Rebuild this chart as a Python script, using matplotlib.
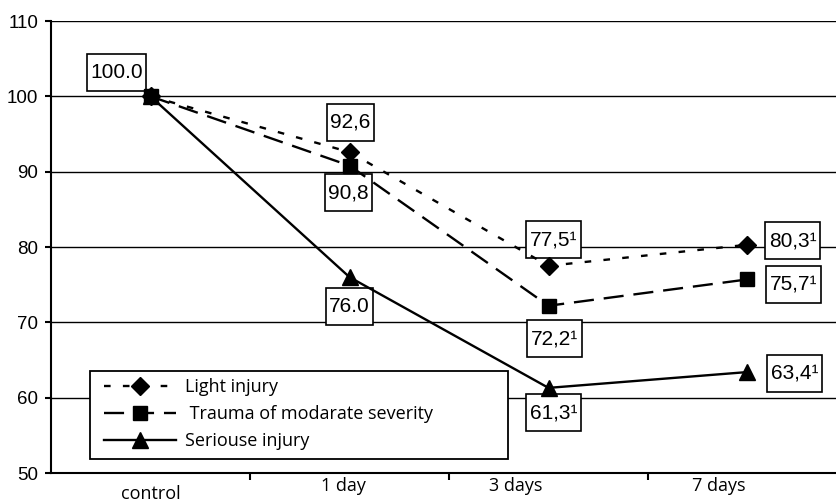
import matplotlib
matplotlib.use("Agg")
import matplotlib.pyplot as plt
import matplotlib.transforms as mtransforms
from matplotlib.patches import Rectangle

# data
categories = ["control", "1 day", "3 days", "7 days"]
light = [100.0, 92.6, 77.5, 80.3]
moderate = [100.0, 90.8, 72.2, 75.7]
serious = [100.0, 76.0, 61.3, 63.4]
series_names = ["Light injury", " Trauma of modarate severity", "Seriouse injury"]

# value labels: (x index, y value, text, dx px, dy px)
labels = [
    (0, 100.0, "100.0", -34, 24),
    (1, 92.6, "92,6", 1, 30),
    (1, 90.8, "90,8", -1, -27),
    (1, 76.0, "76.0", 0, -29),
    (2, 77.5, "77,5\u00b9", 5, 26),
    (2, 72.2, "72,2\u00b9", 6, -33),
    (2, 61.3, "61,3\u00b9", 5, -25),
    (3, 80.3, "80,3\u00b9", 45, 4),
    (3, 75.7, "75,7\u00b9", 46, -5),
    (3, 63.4, "63,4\u00b9", 47, -1),
]

W, H = 836, 504
fig = plt.figure(figsize=(W / 100, H / 100), dpi=100)
ax = fig.add_axes([51 / W, 31 / H, 796 / W, 452 / H])

x = list(range(len(categories)))
lw = 1.7
ax.plot(x, light, color="black", lw=lw, ls=(0, (2.8, 5.2)), marker="D", ms=9, zorder=3)
ax.plot(x, moderate, color="black", lw=lw, ls=(0, (8.5, 4.2)), marker="s", ms=10.5, zorder=4)
ax.plot(x, serious, color="black", lw=lw, ls="-", marker="^", ms=11, zorder=5)

ax.set_xlim(-0.5, 3.5)
ax.set_ylim(50, 110)
ax.set_yticks(range(50, 111, 10))
ax.grid(axis="y", color="black", lw=1)
ax.set_axisbelow(True)
for s in ["top", "right"]:
    ax.spines[s].set_visible(False)
ax.spines["left"].set_linewidth(1.5)
ax.spines["bottom"].set_linewidth(1.5)

ax.tick_params(axis="y", direction="out", length=4, width=1.5, pad=5, labelsize=13.5)
for t in ax.get_yticklabels():
    t.set_fontfamily("Liberation Sans")

ax.set_xticks(x)
ax.set_xticklabels(categories, fontfamily="Open Sans", fontsize=13)
ax.tick_params(axis="x", length=0, pad=3)
ax.set_xticks([0.5, 1.5, 2.5], minor=True)
ax.tick_params(axis="x", which="minor", length=5, width=1.5, direction="out")
# category labels are not centred under the points in the original
shifts = [(0, -8), (-6, 0), (-33, 0), (-29, 0)]
for t, (sx, sy) in zip(ax.get_xticklabels(), shifts):
    t.set_transform(t.get_transform() + mtransforms.ScaledTranslation(sx / 100, sy / 100, fig.dpi_scale_trans))

# boxed value labels: box is taller than the text, so draw it separately
renderer = fig.canvas.get_renderer()
for xi, yv, txt, dx, dy in labels:
    t = ax.annotate(txt, (xi, yv), xytext=(dx, dy), textcoords="offset pixels",
                    ha="center", va="center", fontsize=15, fontfamily="Liberation Sans",
                    zorder=2.6)
    ext = t.get_window_extent(renderer)
    cx, cy = ax.transData.transform((xi, yv))
    cx, cy = cx + dx, cy + dy
    bw, bh = ext.width + 7, 37
    ax.add_patch(Rectangle((cx - bw / 2, cy - bh / 2), bw, bh, transform=None,
                           fc="white", ec="black", lw=1.2, zorder=2.5, clip_on=False))

# legend box
box = Rectangle((90 / W, (H - 459) / H), 418 / W, 88 / H, transform=fig.transFigure,
                fc="white", ec="black", lw=1.3, zorder=7, clip_on=False)
ax.add_patch(box)
leg = ax.legend(ax.get_lines(), series_names, loc="upper left",
                bbox_to_anchor=(104 / W, (H - 378) / H), bbox_transform=fig.transFigure,
                frameon=False, borderpad=0, borderaxespad=0, handlelength=4.0,
                handletextpad=0.5, labelspacing=0.5,
                prop={"family": "Open Sans", "size": 13})
leg.set_zorder(8)

fig.savefig("out.png", dpi=100)
